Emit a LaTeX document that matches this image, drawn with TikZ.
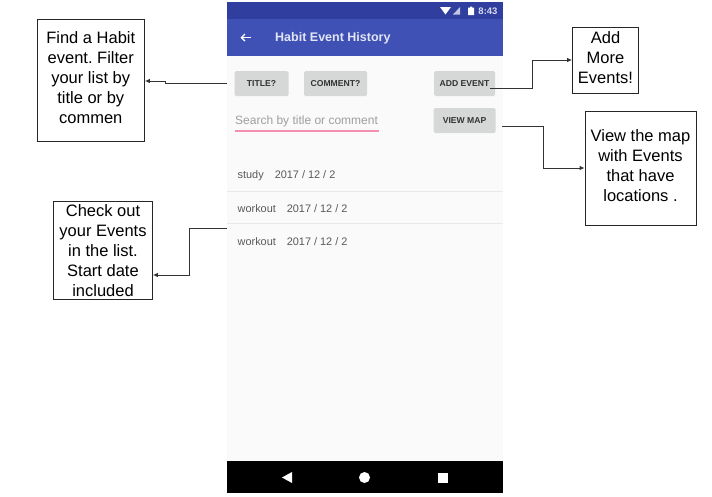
\documentclass[tikz,border=0pt]{standalone}
\usepackage{fontspec}
\setmainfont{Liberation Sans}
\usetikzlibrary{arrows.meta}
\definecolor{statusblue}{HTML}{303F9F}
\definecolor{barblue}{HTML}{3F51B5}
\definecolor{screenbg}{HTML}{FAFAFA}
\definecolor{btngray}{HTML}{D6D7D7}
\definecolor{rowline}{HTML}{E8E8E8}
\definecolor{searchpink}{HTML}{F48FB1}
\frenchspacing
\begin{document}
\begin{tikzpicture}[x=1pt,y=-1pt,
  notebox/.style={draw=black!85,line width=0.8pt,fill=white,inner sep=0pt,align=center,font=\fontsize{16.5}{20}\selectfont},
  btnbox/.style={fill=btngray,rounded corners=1.5pt,inner sep=0pt,text=black!80,font=\fontsize{8.6}{10}\selectfont\bfseries},
  rowtext/.style={anchor=west,inner sep=0pt,text=black!65,font=\fontsize{10.9}{13}\selectfont},
  linkline/.style={draw=black!80,line width=0.9pt,-{Latex[length=5pt,width=4.5pt]}}]
  \useasboundingbox (0,0) rectangle (712,496);
  % phone screen
  \fill[screenbg] (227,2) rectangle (503,493);
  \fill[statusblue] (227,2) rectangle (503,19);
  \fill[barblue] (227,19) rectangle (503,56);
  \fill[black] (227,461) rectangle (503,493);
  % status icons
  \fill[white] (440,7) -- (451,7) -- (445.5,14.5) -- cycle;
  \fill[white!70!statusblue] (453,14.5) -- (460,14.5) -- (460,7) -- cycle;
  \fill[white] (468,7.5) rectangle (474,15) (470,6.5) rectangle (472,7.5);
  \node[inner sep=0pt,text=white!80!statusblue,font=\fontsize{9.5}{11}\selectfont\bfseries] (clock) at (488,11) {8:43};
  % app bar
  \draw[white,line width=1.3pt,-{Straight Barb[length=3.5pt,width=7pt]}] (251,37.5) -- (240.5,37.5);
  \node[anchor=west,inner sep=0pt,text=white!85!barblue,font=\fontsize{12.5}{15}\selectfont\bfseries] (heading) at (275,38) {Habit Event History};
  % buttons
  \node[btnbox,minimum width=54pt,minimum height=25pt] (titlebtn) at (261.5,83.5) {TITLE?};
  \node[btnbox,minimum width=63pt,minimum height=25pt] (commentbtn) at (335.5,83.5) {COMMENT?};
  \node[btnbox,minimum width=61pt,minimum height=25pt] (addbtn) at (464.5,83.5) {ADD EVENT};
  \node[btnbox,minimum width=62pt,minimum height=25pt] (mapbtn) at (464.5,120.5) {VIEW MAP};
  % search field
  \node[anchor=west,inner sep=0pt,text=black!38,font=\fontsize{12}{14}\selectfont] (search) at (235,121.5) {Search by title or comment};
  \draw[searchpink,line width=1.3pt] (235,131) -- (378.5,131);
  % list rows
  \draw[rowline,line width=0.9pt] (227,191) -- (503,191) (227,223) -- (503,223);
  \foreach \rowy/\rowname/\rowgap [count=\rowi] in {176/study/11,208.5/workout/11,241.5/workout/11}
    \node[rowtext] (row\rowi) at (237.5,\rowy) {\rowname\hspace{\rowgap pt}2017 / 12 / 2};
  % nav bar
  \fill[white] (282,477.5) -- (292,472) -- (292,483) -- cycle;
  \fill[white] (364.5,477.5) circle (5.5);
  \fill[white] (437.5,472.5) rectangle (447.5,482.5);
  % notes
  \node[notebox,text depth=4pt,minimum width=107.5pt,minimum height=122pt] (findnote) at (90.75,80) {Find a Habit\\event. Filter\\your list by\\title or by\\commen};
  \node[notebox,text height=93pt,minimum width=99pt,minimum height=98pt] (listnote) at (103,250) {Check out\\your Events\\in the list.\\Start date\\included};
  \node[notebox,text depth=4pt,minimum width=66pt,minimum height=66pt] (addnote) at (605.5,60) {Add\\More\\Events!};
  \node[notebox,text depth=4pt,minimum width=111pt,minimum height=114pt] (mapnote) at (640.5,168) {View the map\\with Events\\that have\\locations .};
  % connector ends
  \coordinate (findstart) at (227,83);
  \coordinate (liststart) at (227,228);
  \coordinate (addstart) at (490,88);
  \coordinate (mapstart) at (502,126.5);
  \draw[linkline] (findstart) -- (165,83) -- (165,81) -- (findnote.east |- 0,81);
  \draw[linkline] (liststart) -- (189,228) -- (189,275) -- (listnote.east |- 0,275);
  \draw[linkline] (addstart) -- (532,88) -- (532,60) -- (addnote.west);
  \draw[linkline] (mapstart) -- (543,126.5) -- (543,168) -- (mapnote.west);
\end{tikzpicture}
\end{document}
